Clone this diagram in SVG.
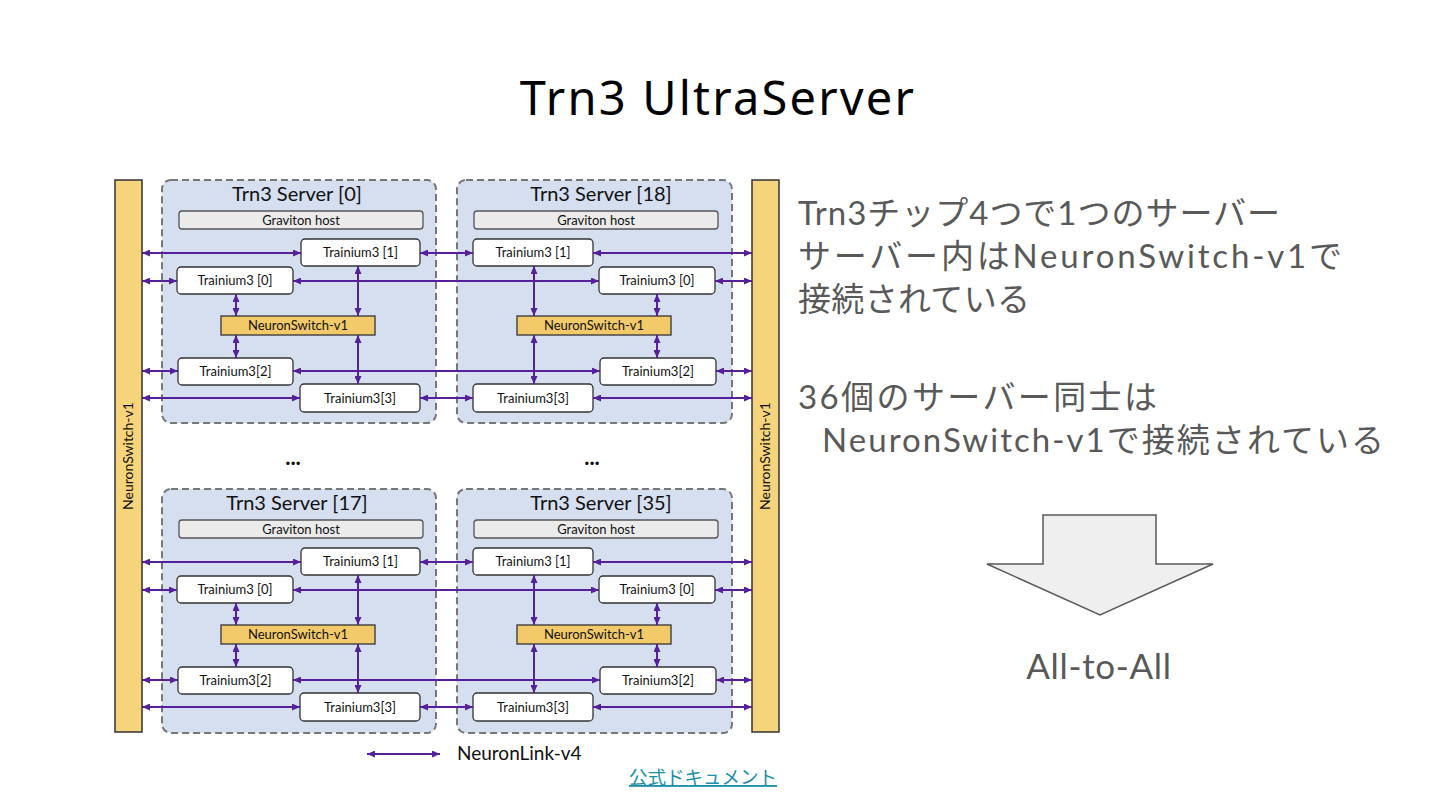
<svg xmlns="http://www.w3.org/2000/svg" width="1440" height="810" viewBox="0 0 1440 810">
<defs>
<marker id="ah" viewBox="0 0 8 7" refX="8" refY="3.5" markerWidth="8" markerHeight="7" markerUnits="userSpaceOnUse" orient="auto-start-reverse">
<path d="M0,0 L8,3.5 L0,7 z" fill="#55209a"/>
</marker>
</defs>
<style>
.srv{fill:#d5dff0;stroke:#777;stroke-width:2;stroke-dasharray:7 4}
.stitle{font-family:Lato,"Liberation Sans",sans-serif;font-size:20px;fill:#111;text-anchor:middle}
.grav{fill:#ebebeb;stroke:#555;stroke-width:1.3}
.chip{fill:#fff;stroke:#333;stroke-width:1.3}
.ns{fill:#f3ca6a;stroke:#333;stroke-width:1.3}
.bar{fill:#f6d47c;stroke:#333;stroke-width:1.5}
.lbl{font-family:Lato,"Liberation Sans",sans-serif;font-size:13px;fill:#111;text-anchor:middle}
.barlbl{font-family:Lato,"Liberation Sans",sans-serif;font-size:14px;fill:#111;text-anchor:middle}
.link{stroke:#55209a;stroke-width:2;fill:none;marker-start:url(#ah);marker-end:url(#ah)}
.dots{font-family:Lato,"Liberation Sans",sans-serif;font-size:22px;font-weight:bold;fill:#111;text-anchor:middle}
.note{font-family:Lato,"Noto Sans CJK JP",sans-serif;font-size:33px;fill:#595959}
</style>
<rect width="1440" height="810" fill="#fff"/>
<text x="718" y="115" font-family="'Noto Sans',sans-serif" font-size="47" letter-spacing="2.2" fill="#000" text-anchor="middle">Trn3 UltraServer</text>

<g id="bar-left">
<rect class="bar" x="115" y="180" width="27" height="552"/>
<text class="barlbl" transform="translate(133,456) rotate(-90)">NeuronSwitch-v1</text>
</g>
<g id="bar-right">
<rect class="bar" x="752" y="180" width="27" height="552"/>
<text class="barlbl" transform="translate(770,456) rotate(-90)">NeuronSwitch-v1</text>
</g>

<g id="server-0">
<rect class="srv" x="162" y="180" width="274" height="243" rx="9"/>
<text class="stitle" x="297" y="201">Trn3 Server [0]</text>
<g id="s0-graviton"><rect class="grav" x="179" y="211" width="244" height="18" rx="3"/><text class="lbl" x="301" y="224.5">Graviton host</text></g>
<g id="s0-t1"><rect class="chip" x="301" y="239" width="119" height="27" rx="4"/><text class="lbl" x="360.5" y="257">Trainium3 [1]</text></g>
<g id="s0-t0"><rect class="chip" x="177" y="267" width="116" height="27" rx="4"/><text class="lbl" x="235" y="285">Trainium3 [0]</text></g>
<g id="s0-ns"><rect class="ns" x="221" y="316" width="154" height="19"/><text class="lbl" x="298" y="330">NeuronSwitch-v1</text></g>
<g id="s0-t2"><rect class="chip" x="178" y="358" width="115" height="27" rx="4"/><text class="lbl" x="235.5" y="376">Trainium3[2]</text></g>
<g id="s0-t3"><rect class="chip" x="300" y="384" width="120" height="28" rx="4"/><text class="lbl" x="360" y="402.5">Trainium3[3]</text></g>
</g>

<g id="server-18">
<rect class="srv" x="457" y="180" width="275" height="243" rx="9"/>
<text class="stitle" x="601" y="201">Trn3 Server [18]</text>
<g id="s18-graviton"><rect class="grav" x="474" y="211" width="244" height="18" rx="3"/><text class="lbl" x="596" y="224.5">Graviton host</text></g>
<g id="s18-t1"><rect class="chip" x="473" y="239" width="120" height="27" rx="4"/><text class="lbl" x="533" y="257">Trainium3 [1]</text></g>
<g id="s18-t0"><rect class="chip" x="599" y="267" width="116" height="27" rx="4"/><text class="lbl" x="657" y="285">Trainium3 [0]</text></g>
<g id="s18-ns"><rect class="ns" x="517" y="316" width="154" height="19"/><text class="lbl" x="594" y="330">NeuronSwitch-v1</text></g>
<g id="s18-t2"><rect class="chip" x="600" y="358" width="116" height="27" rx="4"/><text class="lbl" x="658" y="376">Trainium3[2]</text></g>
<g id="s18-t3"><rect class="chip" x="473" y="384" width="120" height="28" rx="4"/><text class="lbl" x="533" y="402.5">Trainium3[3]</text></g>
</g>

<g id="server-17" transform="translate(0,309)">
<rect class="srv" x="162" y="180" width="274" height="244" rx="9"/>
<text class="stitle" x="297" y="201">Trn3 Server [17]</text>
<g id="s17-graviton"><rect class="grav" x="179" y="211" width="244" height="18" rx="3"/><text class="lbl" x="301" y="224.5">Graviton host</text></g>
<g id="s17-t1"><rect class="chip" x="301" y="239" width="119" height="27" rx="4"/><text class="lbl" x="360.5" y="257">Trainium3 [1]</text></g>
<g id="s17-t0"><rect class="chip" x="177" y="267" width="116" height="27" rx="4"/><text class="lbl" x="235" y="285">Trainium3 [0]</text></g>
<g id="s17-ns"><rect class="ns" x="221" y="316" width="154" height="19"/><text class="lbl" x="298" y="330">NeuronSwitch-v1</text></g>
<g id="s17-t2"><rect class="chip" x="178" y="358" width="115" height="27" rx="4"/><text class="lbl" x="235.5" y="376">Trainium3[2]</text></g>
<g id="s17-t3"><rect class="chip" x="300" y="384" width="120" height="28" rx="4"/><text class="lbl" x="360" y="402.5">Trainium3[3]</text></g>
</g>

<g id="server-35" transform="translate(0,309)">
<rect class="srv" x="457" y="180" width="275" height="244" rx="9"/>
<text class="stitle" x="601" y="201">Trn3 Server [35]</text>
<g id="s35-graviton"><rect class="grav" x="474" y="211" width="244" height="18" rx="3"/><text class="lbl" x="596" y="224.5">Graviton host</text></g>
<g id="s35-t1"><rect class="chip" x="473" y="239" width="120" height="27" rx="4"/><text class="lbl" x="533" y="257">Trainium3 [1]</text></g>
<g id="s35-t0"><rect class="chip" x="599" y="267" width="116" height="27" rx="4"/><text class="lbl" x="657" y="285">Trainium3 [0]</text></g>
<g id="s35-ns"><rect class="ns" x="517" y="316" width="154" height="19"/><text class="lbl" x="594" y="330">NeuronSwitch-v1</text></g>
<g id="s35-t2"><rect class="chip" x="600" y="358" width="116" height="27" rx="4"/><text class="lbl" x="658" y="376">Trainium3[2]</text></g>
<g id="s35-t3"><rect class="chip" x="473" y="384" width="120" height="28" rx="4"/><text class="lbl" x="533" y="402.5">Trainium3[3]</text></g>
</g>

<g id="ellipsis">
<text class="dots" x="293" y="465">...</text>
<text class="dots" x="592" y="465">...</text>
</g>

<g id="connectors">
<g id="top-links">
<line class="link" x1="142" y1="253" x2="301" y2="253"/>
<line class="link" x1="420" y1="253" x2="473" y2="253"/>
<line class="link" x1="593" y1="253" x2="752" y2="253"/>
<line class="link" x1="142" y1="281" x2="177" y2="281"/>
<line class="link" x1="293" y1="281" x2="599" y2="281"/>
<line class="link" x1="715" y1="281" x2="752" y2="281"/>
<line class="link" x1="142" y1="371" x2="178" y2="371"/>
<line class="link" x1="293" y1="371" x2="600" y2="371"/>
<line class="link" x1="716" y1="371" x2="752" y2="371"/>
<line class="link" x1="142" y1="398" x2="300" y2="398"/>
<line class="link" x1="420" y1="398" x2="473" y2="398"/>
<line class="link" x1="593" y1="398" x2="752" y2="398"/>
<line class="link" x1="236" y1="294" x2="236" y2="316"/>
<line class="link" x1="236" y1="335" x2="236" y2="358"/>
<line class="link" x1="358" y1="266" x2="358" y2="316"/>
<line class="link" x1="358" y1="335" x2="358" y2="384"/>
<line class="link" x1="534" y1="266" x2="534" y2="316"/>
<line class="link" x1="534" y1="335" x2="534" y2="384"/>
<line class="link" x1="657" y1="294" x2="657" y2="316"/>
<line class="link" x1="657" y1="335" x2="657" y2="358"/>
</g>
<g id="bottom-links" transform="translate(0,309)">
<line class="link" x1="142" y1="253" x2="301" y2="253"/>
<line class="link" x1="420" y1="253" x2="473" y2="253"/>
<line class="link" x1="593" y1="253" x2="752" y2="253"/>
<line class="link" x1="142" y1="281" x2="177" y2="281"/>
<line class="link" x1="293" y1="281" x2="599" y2="281"/>
<line class="link" x1="715" y1="281" x2="752" y2="281"/>
<line class="link" x1="142" y1="371" x2="178" y2="371"/>
<line class="link" x1="293" y1="371" x2="600" y2="371"/>
<line class="link" x1="716" y1="371" x2="752" y2="371"/>
<line class="link" x1="142" y1="398" x2="300" y2="398"/>
<line class="link" x1="420" y1="398" x2="473" y2="398"/>
<line class="link" x1="593" y1="398" x2="752" y2="398"/>
<line class="link" x1="236" y1="294" x2="236" y2="316"/>
<line class="link" x1="236" y1="335" x2="236" y2="358"/>
<line class="link" x1="358" y1="266" x2="358" y2="316"/>
<line class="link" x1="358" y1="335" x2="358" y2="384"/>
<line class="link" x1="534" y1="266" x2="534" y2="316"/>
<line class="link" x1="534" y1="335" x2="534" y2="384"/>
<line class="link" x1="657" y1="294" x2="657" y2="316"/>
<line class="link" x1="657" y1="335" x2="657" y2="358"/>
</g>
</g>

<g id="legend">
<line class="link" x1="367" y1="754" x2="440" y2="754"/>
<text x="457" y="760" font-family="Lato,'Liberation Sans',sans-serif" font-size="19" fill="#111">NeuronLink-v4</text>
</g>
<g id="doc-link">
<text x="629" y="784" font-family="'Noto Sans CJK JP',sans-serif" font-size="18.5" fill="#1a8fa8" text-decoration="underline">公式ドキュメント</text>
</g>

<g id="notes">
<text class="note" x="798" y="225" textLength="482" lengthAdjust="spacing">Trn3チップ4つで1つのサーバー</text>
<text class="note" x="798" y="268" textLength="544" lengthAdjust="spacing">サーバー内はNeuronSwitch-v1で</text>
<text class="note" x="798" y="311" textLength="232" lengthAdjust="spacing">接続されている</text>
<text class="note" x="798" y="409" textLength="359" lengthAdjust="spacing">36個のサーバー同士は</text>
<text class="note" x="822" y="452" textLength="562" lengthAdjust="spacing">NeuronSwitch-v1で接続されている</text>
</g>

<g id="down-arrow">
<path d="M1043,515 L1156,515 L1156,564 L1213,564 L1100,615 L987,564 L1043,564 Z" fill="#efefef" stroke="#595959" stroke-width="1.5" stroke-linejoin="miter"/>
</g>
<g id="all-to-all">
<text x="1099" y="679" font-family="Lato,'Liberation Sans',sans-serif" font-size="35" letter-spacing="0.7" fill="#595959" text-anchor="middle">All-to-All</text>
</g>
</svg>
